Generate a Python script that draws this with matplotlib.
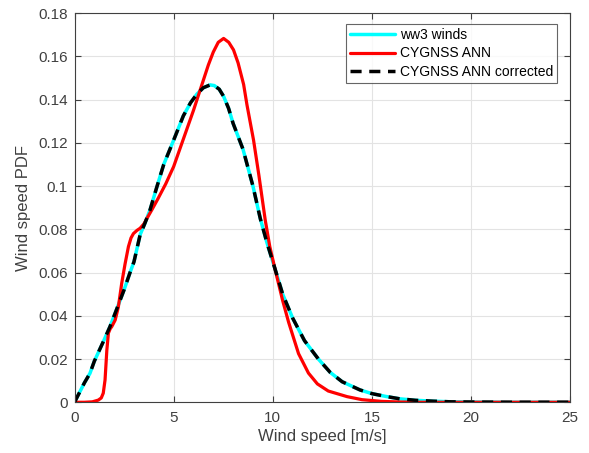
import matplotlib
matplotlib.use("Agg")
import matplotlib.pyplot as plt

plt.rcParams['font.family'] = ['Liberation Sans', 'DejaVu Sans']

# Data
ww3_x = [0, 0.5, 0.78, 1, 1.5, 1.79, 2, 2.5, 2.8, 3, 3.31, 3.56, 3.81, 4.15, 4.5, 4.99, 5.49,
         5.85, 6.17, 6.5, 6.84, 7.05, 7.3, 7.52, 7.77, 8, 8.5, 9, 9.37, 9.7, 10.13, 10.5,
         11.0, 11.6, 12.3, 12.9, 13.5, 14.4, 15, 15.7, 16.4, 17.2, 18.1, 19, 20, 22, 25]
ww3_y = [0, 0.009, 0.0134, 0.019, 0.029, 0.035, 0.040, 0.052, 0.060, 0.065, 0.0775, 0.083,
         0.089, 0.0995, 0.110, 0.121, 0.1325, 0.1385, 0.1425, 0.1455, 0.1468, 0.1465,
         0.1448, 0.1415, 0.136, 0.129, 0.117, 0.100, 0.085, 0.074, 0.0612, 0.050, 0.039,
         0.0285, 0.020, 0.0138, 0.0095, 0.0057, 0.0040, 0.0027, 0.0016, 0.0009, 0.0005,
         0.0002, 0.0001, 0, 0]

ann_x = [0, 0.5, 0.9, 1.2, 1.35, 1.45, 1.54, 1.63, 1.71, 1.8, 1.88, 2.05, 2.21, 2.38, 2.55,
         2.72, 2.85, 2.97, 3.15, 3.31, 3.5, 3.65, 3.9, 4.2, 4.6, 5.0, 5.5, 6.0, 6.5, 6.75,
         7.0, 7.25, 7.52, 7.78, 8.02, 8.25, 8.53, 8.7, 9.03, 9.3, 9.62, 9.85, 10.13, 10.5,
         10.8, 11.3, 11.8, 12.25, 12.8, 13.75, 14.5, 15.5, 16.5, 17.5, 25]
ann_y = [0, 0, 0.0002, 0.001, 0.002, 0.0042, 0.0103, 0.024, 0.032, 0.034, 0.035, 0.038,
         0.044, 0.055, 0.064, 0.072, 0.076, 0.078, 0.0795, 0.0805, 0.0825, 0.085, 0.089,
         0.094, 0.101, 0.109, 0.122, 0.135, 0.149, 0.156, 0.162, 0.1665, 0.1683, 0.1665,
         0.163, 0.157, 0.147, 0.1375, 0.1213, 0.105, 0.0843, 0.072, 0.061, 0.047, 0.037,
         0.0225, 0.0135, 0.0085, 0.0052, 0.0026, 0.0012, 0.0004, 0.0001, 0, 0]

corr_x = list(ww3_x)
corr_y = list(ww3_y)

labels = ['ww3 winds', 'CYGNSS ANN', 'CYGNSS ANN corrected']
xticks = [0, 5, 10, 15, 20, 25]
yticks = [0, 0.02, 0.04, 0.06, 0.08, 0.1, 0.12, 0.14, 0.16, 0.18]
ytick_labels = ['0', '0.02', '0.04', '0.06', '0.08', '0.1', '0.12', '0.14', '0.16', '0.18']

fig = plt.figure(figsize=(5.89, 4.53), dpi=100)
ax = fig.add_axes([0.1265, 0.112, 0.8415, 0.859])

ax.plot(ww3_x, ww3_y, color='#00ffff', lw=2.5, label=labels[0],
        solid_joinstyle='round', solid_capstyle='round')
ax.plot(ann_x, ann_y, color='#ff0000', lw=2.3, label=labels[1],
        solid_joinstyle='round', solid_capstyle='round')
ax.plot(corr_x, corr_y, color='black', lw=2.5, ls=(0, (3.2, 2.2)), label=labels[2],
        dash_joinstyle='round')

ax.set_xlim(0, 25)
ax.set_ylim(0, 0.18)
ax.set_xticks(xticks)
ax.set_yticks(yticks)
ax.set_yticklabels(ytick_labels)
ax.grid(True, color='#e3e3e3', lw=0.8)
ax.set_axisbelow(True)

axc = '#404040'
txtc = '#404040'
for s in ax.spines.values():
    s.set_color(axc)
    s.set_linewidth(0.8)
ax.tick_params(direction='in', length=4, width=0.8, colors=axc, labelsize=11,
               top=True, right=True, labelcolor=txtc)
ax.tick_params(axis='x', pad=6)
ax.tick_params(axis='y', pad=5)

ax.set_xlabel('Wind speed [m/s]', fontsize=12, color=txtc, labelpad=3)
ax.set_ylabel('Wind speed PDF', fontsize=12, color=txtc, labelpad=5)

leg = ax.legend(loc='upper right', bbox_to_anchor=(0.974, 0.972), borderaxespad=0,
                fontsize=10, frameon=True, fancybox=False, handlelength=3.25,
                handletextpad=0.36, borderpad=0.3, labelspacing=0.3)
leg.get_frame().set_edgecolor(axc)
leg.get_frame().set_linewidth(0.8)
for t in leg.get_texts():
    t.set_color('#000000')

fig.savefig('out.png', dpi=100)
